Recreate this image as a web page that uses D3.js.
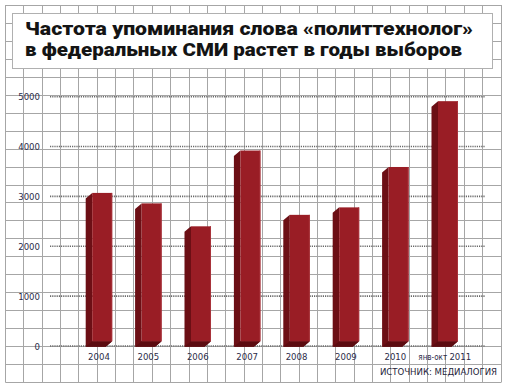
<!DOCTYPE html>
<html><head><meta charset="utf-8">
<script src="https://cdn.jsdelivr.net/npm/d3@7"></script>
<style>
html,body{margin:0;padding:0;background:#fff;}
svg{display:block;}
</style></head>
<body>
<svg id="c" width="505" height="389"></svg>
<script>
const categories = ["2004","2005","2006","2007","2008","2009","2010","янв-окт 2011"];
const values = [2960, 2750, 2290, 3810, 2520, 2670, 3480, 4800];
const yTicks = [0, 1000, 2000, 3000, 4000, 5000];
const titleLines = ["Частота упоминания слова «политтехнолог»", "в федеральных СМИ растет в годы выборов"];
const sourceText = "ИСТОЧНИК: МЕДИАЛОГИЯ";

const svg = d3.select("#c");

// graph-paper background
const gx0 = 5, gx1 = 500.5, gy0 = 5, gy1 = 382;
const nCols = 27, nRows = 21;
const bg = svg.append("g");
for (let i = 0; i <= nCols; i++) {
  const x = Math.round(gx0 + i * (gx1 - gx0) / nCols) + 0.5;
  bg.append("line").attr("x1", x).attr("x2", x).attr("y1", gy0).attr("y2", gy1 + 0.5)
    .attr("stroke", "#a6a6a6").attr("stroke-width", 1);
}
for (let j = 0; j <= nRows; j++) {
  const y = Math.round(gy0 + j * (gy1 - gy0) / nRows) + 0.5;
  bg.append("line").attr("x1", gx0 + 0.5).attr("x2", gx1 + 0.5).attr("y1", y).attr("y2", y)
    .attr("stroke", "#a6a6a6").attr("stroke-width", 1);
}

// title box
svg.append("rect").attr("x", 12.5).attr("y", 13.5).attr("width", 480).attr("height", 55)
  .attr("fill", "#fff").attr("stroke", "#b0b0b0").attr("stroke-width", 1);
const tw = [448, 437];
const tb = [34.5, 56];
titleLines.forEach((t, i) => {
  svg.append("text").attr("x", 25).attr("y", tb[i])
    .attr("font-family", "Roboto, 'DejaVu Sans', sans-serif")
    .attr("font-weight", 900).attr("font-size", 18.5)
    .attr("fill", "#141414")
    .attr("textLength", tw[i]).attr("lengthAdjust", "spacingAndGlyphs")
    .text(t);
});

// scales
const y = d3.scaleLinear().domain([0, 5000]).range([346, 96.7]);
const x = d3.scaleBand().domain(categories).range([85.7, 451.5]).paddingInner(0.595).paddingOuter(0);
const dx = 6.5, dy = 5.5;

// dotted gridlines
const grid = svg.append("g");
yTicks.forEach(v => {
  grid.append("line").attr("x1", 50).attr("x2", 485)
    .attr("y1", y(v)).attr("y2", y(v))
    .attr("stroke", "#6a6a6a").attr("stroke-width", 1.6)
    .attr("stroke-dasharray", "1.2,1");
});

// y axis labels
const yAxis = d3.axisLeft(y).tickValues(yTicks).tickSize(0).tickPadding(0).tickFormat(d3.format("d"));
const ya = svg.append("g").attr("transform", "translate(40,0)").call(yAxis);
ya.select(".domain").remove();
ya.selectAll("text")
  .attr("font-family", "'Liberation Sans Narrow', 'DejaVu Sans Condensed', sans-serif")
  .attr("font-size", 9.5).attr("fill", "#2b2b48");

// bars (3D)
const bars = svg.append("g");
categories.forEach((c, i) => {
  const v = values[i];
  const x0 = x(c), w = x.bandwidth();
  const yt = y(v), yb = y(0) + 0.7;
  const g = bars.append("g");
  g.append("path")
    .attr("d", `M${x0},${yt} L${x0 + dx},${yt - dy} L${x0 + dx},${yb - dy} L${x0 + w + dx},${yb - dy} L${x0 + w},${yb} L${x0},${yb} Z`)
    .attr("fill", "#6c0f15");
  g.append("path")
    .attr("d", `M${x0 + dx},${yb - dy} L${x0 + w + dx},${yb - dy} L${x0 + w},${yb} L${x0},${yb} Z`)
    .attr("fill", "#5c0b10");
  g.append("rect").attr("x", x0 + dx).attr("y", yt - dy).attr("width", w).attr("height", yb - yt)
    .attr("fill", "#991d25");
  g.append("line").attr("x1", x0 + dx + w - 0.5).attr("x2", x0 + dx + w - 0.5)
    .attr("y1", yt - dy).attr("y2", yb - dy).attr("stroke", "#a8323a").attr("stroke-width", 1);
});

// category labels
const xl = svg.append("g");
categories.forEach((c, i) => {
  const cx = x(c) + (x.bandwidth() + dx) / 2;
  const t = xl.append("text").attr("x", cx).attr("y", 359.5).attr("text-anchor", "middle")
    .attr("font-family", "'Liberation Sans Narrow', 'DejaVu Sans Condensed', sans-serif")
    .attr("font-size", 9.5).attr("fill", "#2b2b48");
  const parts = c.split(" ");
  if (parts.length > 1) {
    t.append("tspan").attr("font-size", 8).text(parts[0] + " ");
    t.append("tspan").text(parts[1]);
  } else t.text(c);
});

// source
svg.append("text").attr("x", 497).attr("y", 375).attr("text-anchor", "end")
  .attr("font-family", "'Liberation Sans Narrow', 'DejaVu Sans Condensed', sans-serif")
  .attr("font-size", 9.5).attr("fill", "#1e1e3a")
  .text(sourceText);
</script>
</body></html>
